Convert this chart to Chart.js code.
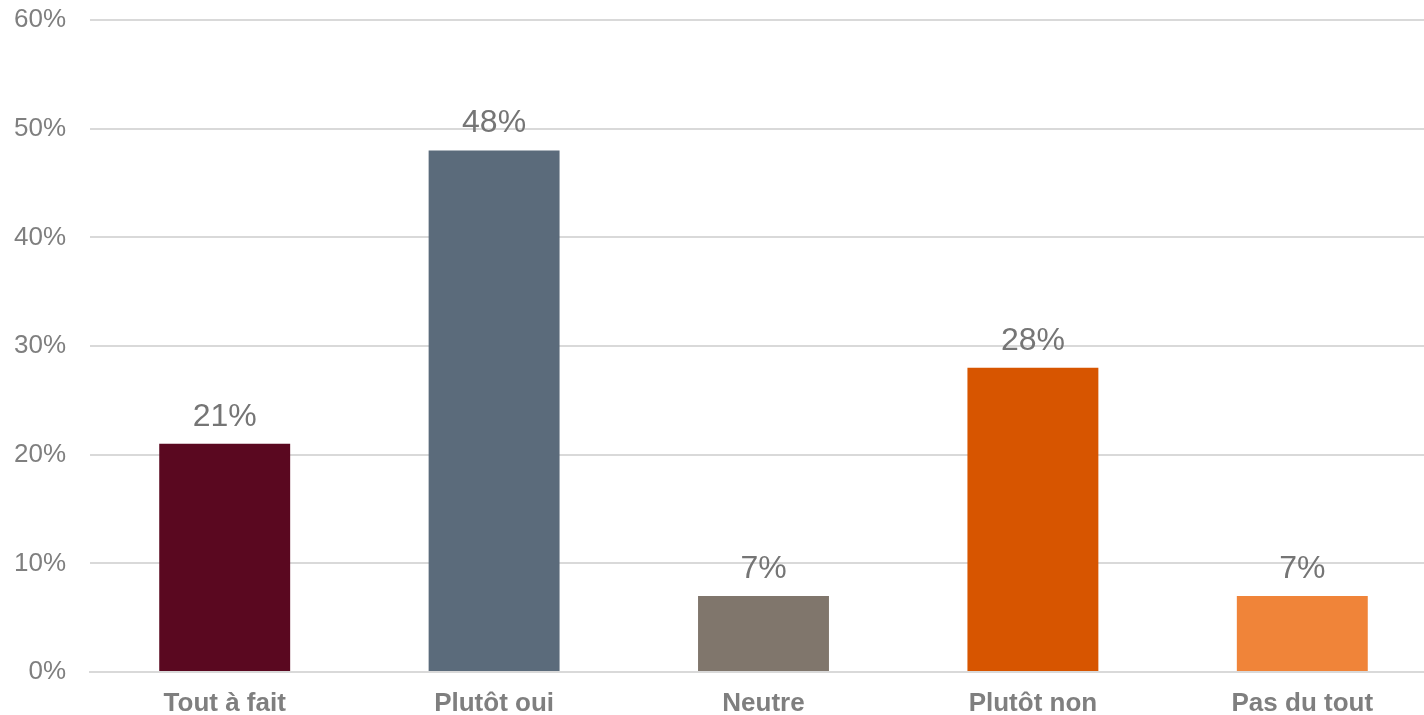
<!DOCTYPE html>
<html>
<head>
<meta charset="utf-8">
<script src="https://cdn.jsdelivr.net/npm/chart.js@4"></script>
<style>
  html, body { margin: 0; padding: 0; background: #fff; overflow: hidden; }
  #wrap { width: 1437px; height: 715px; }
</style>
</head>
<body>
<div id="wrap"><canvas id="barChart"></canvas></div>
<script>
const categories = ['Tout à fait', 'Plutôt oui', 'Neutre', 'Plutôt non', 'Pas du tout'];
const values = [21, 48, 7, 28, 7];
const barColors = ['#5a0820', '#5b6b7b', '#80766c', '#d75500', '#f08439'];
const yTicks = [0, 10, 20, 30, 40, 50, 60];

// simple value labels above each bar
const valueLabels = {
    id: 'valueLabels',
    afterDatasetsDraw(chart) {
        const ctx = chart.ctx;
        const meta = chart.getDatasetMeta(0);
        ctx.save();
        ctx.font = '32px "Liberation Sans", Arial, sans-serif';
        ctx.fillStyle = '#757575';
        ctx.textAlign = 'center';
        ctx.textBaseline = 'middle';
        meta.data.forEach((bar, i) => {
            ctx.fillText(values[i] + '%', bar.x, bar.y - 27);
        });
        ctx.restore();
    }
};

const ctx = document.getElementById('barChart').getContext('2d');
new Chart(ctx, {
    type: 'bar',
    data: {
        labels: categories,
        datasets: [{
            data: values,
            backgroundColor: barColors,
            borderWidth: 0,
            categoryPercentage: 1,
            barPercentage: 0.486
        }]
    },
    options: {
        responsive: true,
        maintainAspectRatio: false,
        animation: false,
        layout: { padding: 0 },
        plugins: {
            legend: { display: false },
            tooltip: { enabled: false }
        },
        scales: {
            x: {
                grid: { display: false, drawTicks: false },
                border: { display: true, color: '#d9d9d9', width: 2 },
                ticks: {
                    color: '#7f7f7f',
                    padding: 16,
                    font: { family: '"Liberation Sans", Arial, sans-serif', size: 26, weight: 'bold' }
                },
                afterFit(scale) { scale.height = 43; }
            },
            y: {
                min: 0,
                max: 60,
                afterBuildTicks(scale) { scale.ticks = yTicks.map(v => ({ value: v })); },
                grid: { color: '#d9d9d9', lineWidth: 2, drawTicks: false },
                border: { display: false },
                ticks: {
                    color: '#7f7f7f',
                    padding: 24,
                    font: { family: '"Liberation Sans", Arial, sans-serif', size: 26 },
                    callback: v => v + '%'
                },
                afterFit(scale) {
                    scale.width = 90;
                    scale.paddingTop = 20;
                    scale.paddingBottom = 0;
                }
            }
        }
    },
    plugins: [valueLabels]
});
</script>
</body>
</html>
